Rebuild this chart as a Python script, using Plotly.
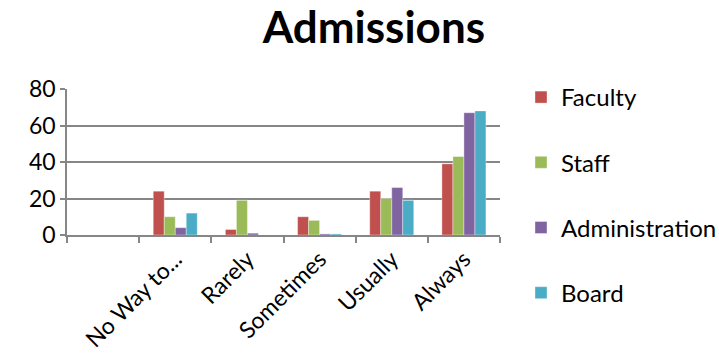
import plotly.graph_objects as go

categories = ["", "No Way to...", "Rarely", "Sometimes", "Usually", "Always"]
faculty = [None, 24, 3, 10, 24, 39]
staff = [None, 10, 19, 8, 20, 43]
administration = [None, 4, 1, 0.6, 26, 67]
board = [None, 12, 0, 0.6, 19, 68]

series = [
    ("Faculty", faculty, "#C0504D"),
    ("Staff", staff, "#9BBB59"),
    ("Administration", administration, "#8064A2"),
    ("Board", board, "#4BACC6"),
]

FONT = "Lato"
fig = go.Figure()
for i, (name, vals, col) in enumerate(series):
    fig.add_trace(go.Bar(
        x=categories, y=vals, name=name,
        marker=dict(color=col, line=dict(color="rgba(255,255,255,0.6)", width=0.6)),
        legendgroup=name,
    ))

fig.update_layout(
    width=719, height=354,
    margin=dict(l=67, r=219, t=89, b=119),
    paper_bgcolor="white", plot_bgcolor="white",
    barmode="group", bargap=0.39, bargroupgap=0,
    font=dict(family=FONT, size=23, color="black"),
    title=dict(text="<b>Admissions</b>", x=0.52, xanchor="center",
               y=1 - 28 / 354, yanchor="middle", yref="container",
               font=dict(family=FONT, size=44, color="black")),
    legend=dict(x=521 / 719, xref="container", xanchor="left",
                y=1 - 75 / 354, yref="container", yanchor="top",
                font=dict(family=FONT, size=24), tracegroupgap=31,
                itemwidth=30, bgcolor="rgba(0,0,0,0)", maxheight=1),
    showlegend=True,
)
fig.update_xaxes(
    type="category", categoryorder="array", categoryarray=categories,
    showline=True, linecolor="#868686", linewidth=1.5, automargin=False,
    ticks="outside", tickson="boundaries", ticklen=6, tickcolor="#868686", tickwidth=1.5,
    tickangle=-45, showgrid=False, tickfont=dict(family=FONT, size=23),
)
fig.update_yaxes(
    range=[0, 80], dtick=20, showline=True, linecolor="#868686", linewidth=1.5,
    ticks="outside", ticklen=5, tickcolor="#868686", tickwidth=1.5, automargin=False,
    showgrid=True, gridcolor="#868686", gridwidth=1.5, zeroline=False,
    tickfont=dict(family=FONT, size=23),
)

fig.write_html("out.html")
